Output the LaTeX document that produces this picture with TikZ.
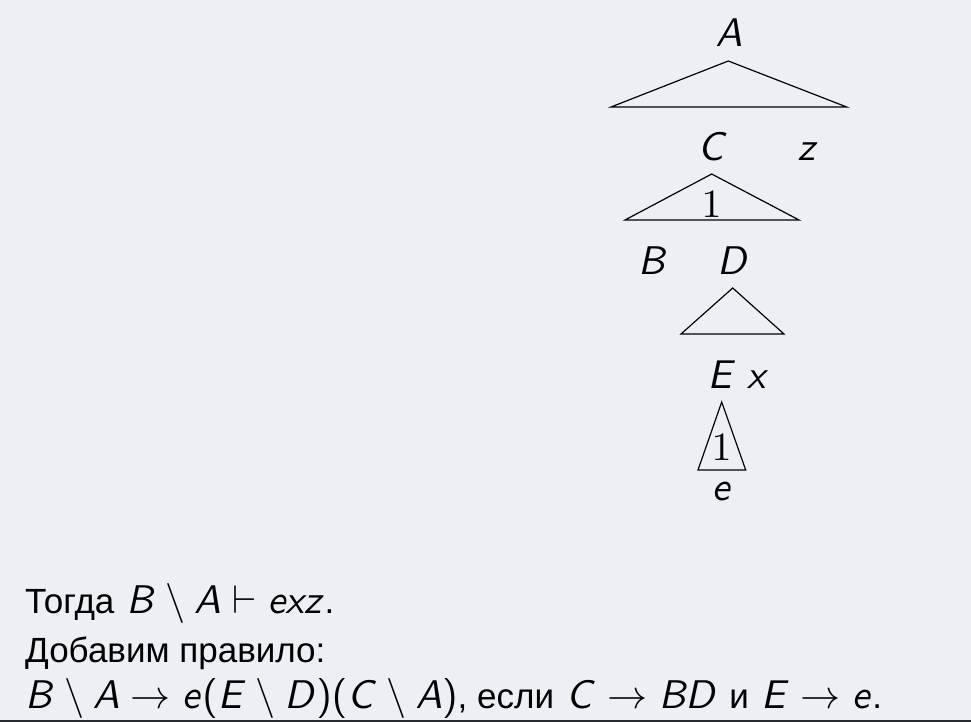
\documentclass[tikz,border=0pt]{standalone}
\usepackage[no-math]{fontspec}
\newfontfamily\cyrfont{Liberation Sans}
\DeclareFontFamily{OT1}{bsf}{\hyphenchar\font=-1}
\DeclareFontShape{OT1}{bsf}{m}{n}{<-> cmss10}{}
\DeclareFontShape{OT1}{bsf}{m}{sl}{<-> cmssi10}{}
\DeclareFontFamily{OMS}{bsy}{\skewchar\font=48}
\DeclareFontShape{OMS}{bsy}{m}{n}{<-> cmsy10}{}
\DeclareFontFamily{OT1}{brm}{}
\DeclareFontShape{OT1}{brm}{m}{n}{<-> cmr10}{}
\DeclareSymbolFont{letters}{OT1}{bsf}{m}{sl}
\DeclareSymbolFont{operators}{OT1}{bsf}{m}{n}
\DeclareSymbolFont{symbols}{OMS}{bsy}{m}{n}
\newcommand\cyrtext[1]{{\cyrfont\fontsize{35}{47.5}\selectfont #1}}
\newcommand\romone{{\fontencoding{OT1}\fontfamily{brm}\selectfont 1}}
\definecolor{bgcol}{HTML}{ECF0F4}
\definecolor{edgecol}{HTML}{262B30}
\tikzset{
  lbl/.style={inner sep=0pt, anchor=base, font=\fontsize{40}{47.5}\selectfont},
  txtline/.style={inner sep=0pt, anchor=base west, font=\fontsize{40}{47.5}\selectfont},
  tri/.style={draw=black, line width=1.2pt, line join=miter}
}
\begin{document}
\begin{tikzpicture}[x=1pt,y=-1pt]
\useasboundingbox (0,0) rectangle (971,722);
\fill[bgcol] (0,0) rectangle (971,722);
\fill[edgecol] (0,720) rectangle (971,722);

% labels
\node[lbl] (lA) at (729,47) {$A$};
\node[lbl] (lC) at (713,161) {$C$};
\node[lbl] (lz) at (808,161) {$z$};
\node[lbl] (one1) at (711.7,218) {\romone};
\node[lbl] (lB) at (653,274) {$B$};
\node[lbl] (lD) at (733,274) {$D$};
\node[lbl] (lE) at (722,388) {$E$};
\node[lbl] (lx) at (758,388) {$x$};
\node[lbl] (one2) at (721.7,460) {\romone};
\node[lbl] (le) at (722,500) {$e$};

% triangles
\coordinate (t1a) at (728.3,61);
\coordinate (t1l) at (611,107);
\coordinate (t1r) at (846.7,107);
\draw[tri] (t1a) -- (t1l) -- (t1r) -- cycle;

\coordinate (t2a) at (711.7,174);
\coordinate (t2l) at (625,220);
\coordinate (t2r) at (799,220);
\draw[tri] (t2a) -- (t2l) -- (t2r) -- cycle;

\coordinate (t3a) at (732.7,288);
\coordinate (t3l) at (681,334);
\coordinate (t3r) at (784,334);
\draw[tri] (t3a) -- (t3l) -- (t3r) -- cycle;

\coordinate (t4a) at (721.7,402);
\coordinate (t4l) at (698,470);
\coordinate (t4r) at (745.7,470);
\draw[tri] (t4a) -- (t4l) -- (t4r) -- cycle;

% text lines
\node[txtline] (line1) at (25,613) {\cyrtext{Тогда} $B\setminus A\vdash exz$\cyrtext{.}};
\node[txtline] (line2) at (25,662) {\cyrtext{Добавим правило:}};
\node[txtline] (line3) at (25,708) {$B\setminus A\to e(E\setminus D)(C\setminus A)$\cyrtext{, если} $C\to BD$ \cyrtext{и} $E\to e$\cyrtext{.}};
\end{tikzpicture}
\end{document}
